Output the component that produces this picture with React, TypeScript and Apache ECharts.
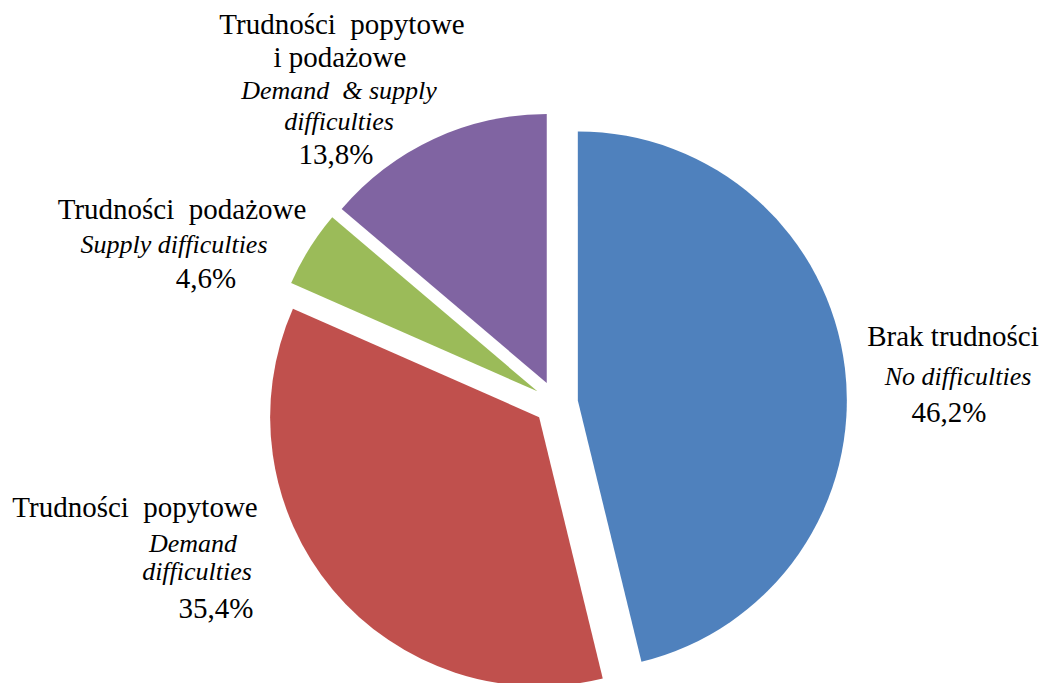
import React, { useEffect, useRef } from "react";
import * as echarts from "echarts";

const categories = ["Brak trudności", "Trudności  popytowe", "Trudności  podażowe", "Trudności  popytowe i podażowe"];
const values = [46.2, 35.4, 4.6, 13.8];
const colors = ["#4F81BD", "#C0504D", "#9BBB59", "#8064A2"];

// label lines per slice: polish name lines, english name lines (italic)
const plLines = [["Brak trudności"], ["Trudności  popytowe"], ["Trudności  podażowe"], ["Trudności  popytowe", "i podażowe"]];
const enLines = [["No difficulties"], ["Demand", "difficulties"], ["Supply difficulties"], ["Demand  & supply", "difficulties"]];

// layout: per slice, per line [centerX, baseline]
const labelLayoutTable: number[][][] = [
  [[953, 345], [958, 385], [949, 421]],
  [[135, 516], [193, 552], [197, 580], [216, 617]],
  [[182, 218], [174, 253], [206, 287]],
  [[342, 33], [340, 66], [339, 99], [339, 130], [336, 163]],
];

const fmtPct = (v: number) => v.toFixed(1).replace(".", ",") + "%";

export default function App() {
  const ref = useRef<HTMLDivElement>(null);
  useEffect(() => {
    if (!ref.current) return;
    const chart = echarts.init(ref.current, null, { renderer: "svg" });
    const graphics: any[] = [];
    const REG = 29;
    const ITA = 26;
    values.forEach((v, i) => {
      const lines: { t: string; it: boolean }[] = [];
      plLines[i].forEach((t) => lines.push({ t, it: false }));
      enLines[i].forEach((t) => lines.push({ t, it: true }));
      lines.push({ t: fmtPct(v), it: false });
      lines.forEach((ln, j) => {
        const pos = labelLayoutTable[i][j];
        const fs = ln.it ? ITA : REG;
        graphics.push({
          type: "text",
          x: pos[0],
          y: pos[1] - 0.32 * fs,
          silent: true,
          style: {
            text: ln.t,
            fill: "#000",
            fontFamily: "Liberation Serif",
            fontSize: fs,
            fontStyle: ln.it ? "italic" : "normal",
            align: "center",
            verticalAlign: "middle",
          },
        });
      });
    });
    chart.setOption({
      animation: false,
      backgroundColor: "#ffffff",
      graphic: graphics,
      series: [
        {
          type: "pie",
          center: [556, 403],
          radius: 269,
          startAngle: 90,
          clockwise: true,
          selectedMode: "multiple",
          selectedOffset: 22,
          label: { show: false },
          labelLine: { show: false },
          emphasis: { disabled: true },
          itemStyle: { borderWidth: 0 },
          data: values.map((v, i) => ({
            name: categories[i],
            value: v,
            selected: true,
            itemStyle: { color: colors[i] },
          })),
        },
      ],
    });
    return () => chart.dispose();
  }, []);
  return (
    <div
      ref={ref}
      style={{ position: "absolute", left: 0, top: 0, width: 1045, height: 683 }}
    />
  );
}
